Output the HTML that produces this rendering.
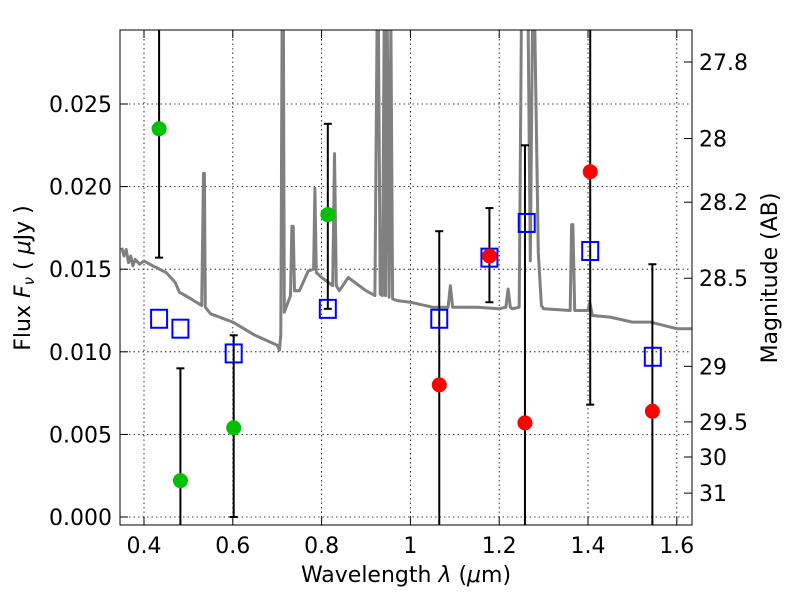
<!DOCTYPE html>
<html><head><meta charset="utf-8"><style>
body{margin:0;background:#fff;}
svg text{font-family:"DejaVu Sans","Liberation Sans",sans-serif;fill:#000;}
</style></head><body>
<svg id="chart" width="800" height="600" xmlns="http://www.w3.org/2000/svg">
<defs><clipPath id="clip"><rect x="120" y="30" width="572" height="495"/></clipPath></defs>
<rect x="120" y="30" width="572" height="495" fill="#fff"/>
<g id="grid"></g>
<g id="spec" clip-path="url(#clip)"></g>
<g id="pts" clip-path="url(#clip)"></g>
<rect x="120" y="30" width="572" height="495" fill="none" stroke="#000" stroke-width="1"/>
<g id="axes"></g>
<text x="406" y="582" font-size="22" text-anchor="middle">Wavelength  <tspan font-style="italic">λ</tspan> (<tspan font-style="italic">μ</tspan>m)</text>
<text transform="translate(30,278) rotate(-90)" font-size="22" text-anchor="middle">Flux  <tspan font-style="italic">F</tspan><tspan font-style="italic" font-size="15" dy="4">ν</tspan><tspan dy="-4">  ( </tspan><tspan font-style="italic">μ</tspan>Jy )</text>
<text transform="translate(777,278) rotate(-90)" font-size="22" text-anchor="middle">Magnitude (AB)</text>
</svg>
<script>
const NS="http://www.w3.org/2000/svg";
const specWave=[0.35,0.355,0.36,0.365,0.37,0.375,0.38,0.39,0.40,0.42,0.45,0.47,0.48,0.50,0.53,0.534,0.536,0.538,0.55,0.60,0.65,0.70,0.705,0.708,0.711,0.714,0.716,0.73,0.733,0.736,0.739,0.75,0.77,0.782,0.785,0.788,0.80,0.825,0.829,0.833,0.84,0.86,0.90,0.92,0.925,0.928,0.932,0.937,0.941,0.944,0.948,0.952,0.956,0.96,0.97,1.0,1.05,1.085,1.09,1.095,1.10,1.15,1.2,1.215,1.22,1.225,1.23,1.245,1.25,1.255,1.265,1.27,1.275,1.28,1.288,1.295,1.3,1.36,1.363,1.366,1.37,1.40,1.404,1.41,1.45,1.5,1.54,1.6,1.635];
const specFlux=[0.0163,0.0158,0.0162,0.0154,0.0158,0.0152,0.0156,0.0153,0.0155,0.0152,0.0148,0.0142,0.0136,0.0133,0.0128,0.0208,0.0208,0.0127,0.0123,0.0118,0.0110,0.0104,0.0101,0.0110,0.0300,0.0300,0.0124,0.0134,0.0176,0.0176,0.0137,0.0137,0.0149,0.0150,0.0199,0.0148,0.0145,0.0140,0.0220,0.0140,0.0137,0.0145,0.0137,0.0134,0.0300,0.0300,0.0135,0.0134,0.0300,0.0134,0.0300,0.0133,0.0300,0.0132,0.0131,0.0130,0.0127,0.0127,0.0140,0.0127,0.0127,0.0127,0.0126,0.0127,0.0138,0.0127,0.0126,0.0127,0.0300,0.0300,0.0300,0.0155,0.0300,0.0300,0.0160,0.0128,0.0126,0.0125,0.0177,0.0177,0.0125,0.0125,0.0130,0.0122,0.0121,0.0118,0.0118,0.0114,0.0114];
const greenWave=[0.434,0.482,0.602,0.814];
const greenFlux=[0.0235,0.0022,0.0054,0.0183];
const greenLo=[0.0157,-0.001,0.0000,0.0126];
const greenHi=[0.035,0.0090,0.0110,0.0238];
const redWave=[1.065,1.178,1.258,1.405,1.545];
const redFlux=[0.0080,0.0158,0.0057,0.0209,0.0064];
const redLo=[-0.001,0.0130,-0.001,0.0068,-0.001];
const redHi=[0.0173,0.0187,0.0225,0.035,0.0153];
const modelWave=[0.434,0.482,0.602,0.814,1.065,1.178,1.262,1.405,1.546];
const modelFlux=[0.0120,0.0114,0.0099,0.0126,0.0120,0.0157,0.0178,0.0161,0.0097];
const xTicks=[0.4,0.6,0.8,1.0,1.2,1.4,1.6];
const xTickLabels=["0.4","0.6","0.8","1","1.2","1.4","1.6"];
const yTicks=[0,0.005,0.010,0.015,0.020,0.025];
const yTickLabels=["0.000","0.005","0.010","0.015","0.020","0.025"];
const magTicks=[27.8,28,28.2,28.5,29,29.5,30,31];
const magTickLabels=["27.8","28","28.2","28.5","29","29.5","30","31"];

const X=v=>144+(v-0.4)*444;
const Y=v=>517-v*16520;
const magY=m=>Y(Math.pow(10,(23.9-m)/2.5));
function mk(tag,attrs,parent){const e=document.createElementNS(NS,tag);for(const k in attrs)e.setAttribute(k,attrs[k]);parent.appendChild(e);return e;}
const grid=document.getElementById('grid'),axes=document.getElementById('axes'),spec=document.getElementById('spec'),pts=document.getElementById('pts');
xTicks.forEach((t,i)=>{
  const gl=mk('line',{x1:X(t),x2:X(t),y1:30,y2:525,stroke:'#000','stroke-width':0.8,'stroke-dasharray':'1.5,3'},grid);
  
  mk('line',{x1:X(t),x2:X(t),y1:525,y2:517,stroke:'#000'},axes);
  mk('line',{x1:X(t),x2:X(t),y1:30,y2:38,stroke:'#000'},axes);
  const tx=mk('text',{x:X(t),y:553,'font-size':22,'text-anchor':'middle'},axes);tx.textContent=xTickLabels[i];
  
});
yTicks.forEach((t,i)=>{
  const gl=mk('line',{x1:120,x2:692,y1:Y(t),y2:Y(t),stroke:'#000','stroke-width':0.8,'stroke-dasharray':'1.5,3'},grid);
  
  mk('line',{x1:120,x2:128,y1:Y(t),y2:Y(t),stroke:'#000'},axes);
  const tx=mk('text',{x:112,y:Y(t)+8,'font-size':22,'text-anchor':'end'},axes);tx.textContent=yTickLabels[i];
  
});
magTicks.forEach((m,i)=>{
  const y=magY(m);
  mk('line',{x1:692,x2:684,y1:y,y2:y,stroke:'#000'},axes);
  const tx=mk('text',{x:699,y:y+8,'font-size':22},axes);tx.textContent=magTickLabels[i];
  
});
const d=specWave.map((w,i)=>(i?'L':'M')+X(w).toFixed(1)+','+Y(specFlux[i]).toFixed(1)).join('');
const sp=mk('path',{d:d,fill:'none',stroke:'#808080','stroke-width':3,'stroke-linejoin':'round'},spec);

function errbar(x,lo,hi){
  const g=mk('g',{stroke:'#000','stroke-width':2},pts);
  
  mk('line',{x1:X(x),x2:X(x),y1:Y(lo),y2:Y(hi)},g);
  mk('line',{x1:X(x)-4,x2:X(x)+4,y1:Y(lo),y2:Y(lo)},g);
  mk('line',{x1:X(x)-4,x2:X(x)+4,y1:Y(hi),y2:Y(hi)},g);
}
greenWave.forEach((w,i)=>errbar(w,greenLo[i],greenHi[i]));
redWave.forEach((w,i)=>errbar(w,redLo[i],redHi[i]));
modelWave.forEach((w,i)=>{
  const r=mk('rect',{x:X(w)-8,y:Y(modelFlux[i])-9,width:16,height:18,fill:'none',stroke:'#0000ff','stroke-width':2},pts);
  
});
greenWave.forEach((w,i)=>{
  const c=mk('circle',{cx:X(w),cy:Y(greenFlux[i]),r:7.5,fill:'#00c000'},pts);
  
});
redWave.forEach((w,i)=>{
  const c=mk('circle',{cx:X(w),cy:Y(redFlux[i]),r:7.5,fill:'#ff0000'},pts);
  
});
</script>
</body></html>
